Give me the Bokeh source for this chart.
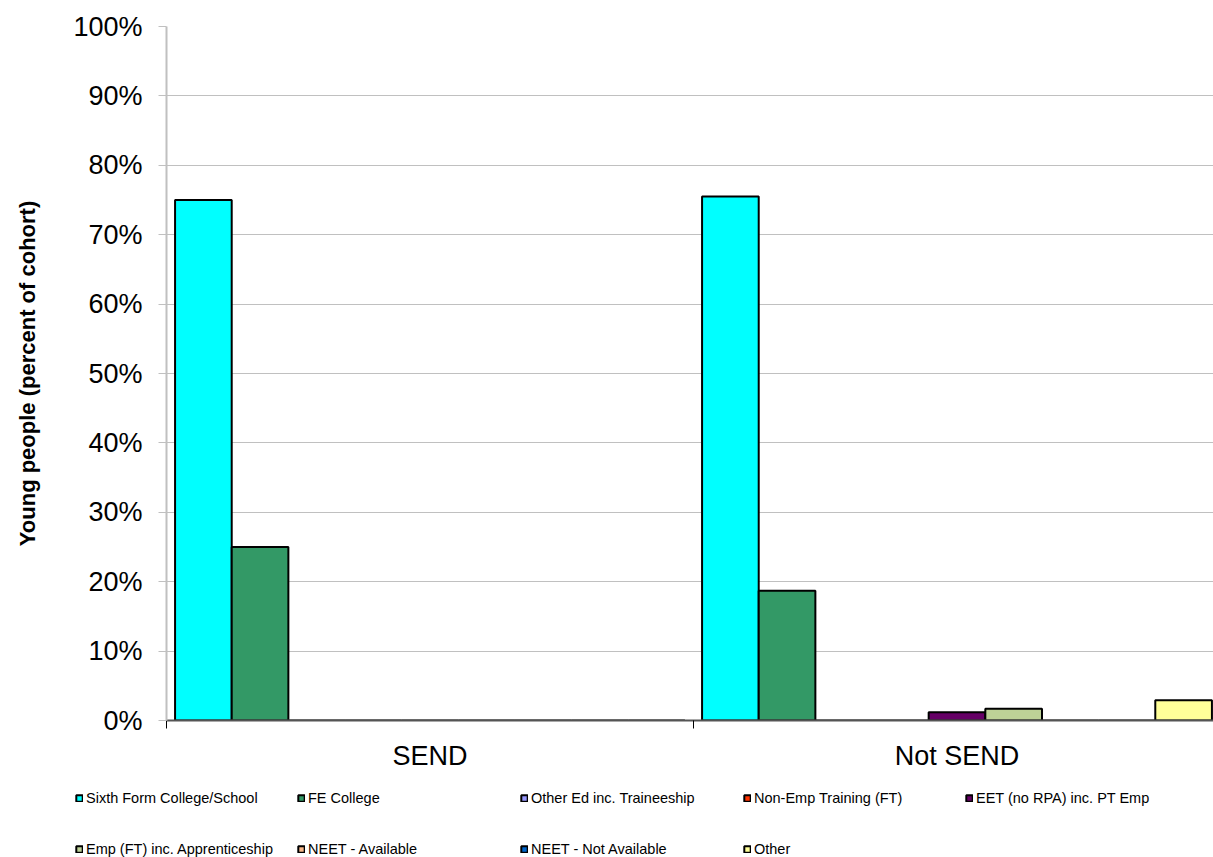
from bokeh.plotting import figure
from bokeh.layouts import column
from bokeh.models import (FixedTicker, PrintfTickFormatter, Legend, LegendItem,
                          ColumnDataSource, Range1d)
from bokeh.embed import file_html
from bokeh.resources import INLINE

# ---- data ----
categories = ["SEND", "Not SEND"]
series = ["Sixth Form College/School", "FE College", "Other Ed inc. Traineeship",
          "Non-Emp Training (FT)", "EET (no RPA) inc. PT Emp",
          "Emp (FT) inc. Apprenticeship", "NEET - Available",
          "NEET - Not Available", "Other"]
send_values = [75.0, 25.0, 0, 0, 0, 0, 0, 0, 0]
not_send_values = [75.5, 18.7, 0, 0, 1.2, 1.7, 0, 0, 2.9]
colors = ["#00FFFF", "#339966", "#9999FF", "#FF3300", "#660066",
          "#BDD197", "#F8B88A", "#0066CC", "#FFFF99"]
y_ticks = list(range(0, 101, 10))

FONT = "Liberation Sans"
W = 1213
LEFT = 166
CAT_PX = 527


def no_frame_align(fig):
    try:
        fig.frame_align = False
    except Exception:
        pass


p = figure(width=W, height=780, output_backend="svg", toolbar_location=None,
           x_range=Range1d(-0.5, -0.5 + (W - LEFT) / CAT_PX), y_range=Range1d(0, 100),
           min_border_left=LEFT, min_border_right=0, min_border_top=26,
           min_border_bottom=60)
p.outline_line_color = None
no_frame_align(p)

n = len(series)
bar_w = 0.1075
cat_idx = list(range(len(categories)))
for i, name in enumerate(series):
    xs = [c + (i - (n - 1) / 2) * bar_w for c in cat_idx]
    tops = [send_values[i], not_send_values[i]]
    src = ColumnDataSource(dict(x=xs, top=tops))
    p.vbar(x="x", top="top", bottom=0, width=bar_w, source=src,
           fill_color=colors[i], line_color="black", line_width=2)

# y axis
p.yaxis.ticker = FixedTicker(ticks=y_ticks, minor_ticks=[])
p.yaxis.formatter = PrintfTickFormatter(format="%d%%")
p.yaxis.major_label_text_font = FONT
p.yaxis.major_label_text_font_size = "27px"
p.yaxis.major_label_text_color = "black"
p.yaxis.axis_line_color = "#C0C0C0"
p.yaxis.axis_line_width = 2
p.yaxis.major_tick_line_color = "#C0C0C0"
p.yaxis.major_tick_in = 0
p.yaxis.major_tick_out = 8
p.yaxis.major_label_standoff = 16
p.yaxis.axis_label = "Young people (percent of cohort)"
p.yaxis.axis_label_text_font = FONT
p.yaxis.axis_label_text_font_style = "bold"
p.yaxis.axis_label_text_font_size = "22px"
p.yaxis.axis_label_text_color = "black"
p.yaxis.axis_label_standoff = 30

# x axis
p.xaxis.ticker = FixedTicker(ticks=cat_idx,
                             minor_ticks=[c - 0.5 for c in cat_idx] + [cat_idx[-1] + 0.5])
p.xaxis.major_label_overrides = {c: categories[c] for c in cat_idx}
p.xaxis.major_label_text_font = FONT
p.xaxis.major_label_text_font_size = "27px"
p.xaxis.major_label_text_color = "black"
p.xaxis.major_tick_out = 0
p.xaxis.major_tick_in = 0
p.xaxis.minor_tick_out = 8
p.xaxis.minor_tick_in = 0
p.xaxis.minor_tick_line_color = "black"
p.xaxis.axis_line_color = "#555555"
p.xaxis.axis_line_width = 2
p.xaxis.major_label_standoff = 12

p.xgrid.grid_line_color = None
p.ygrid.grid_line_color = "#C0C0C0"
p.ygrid.grid_line_width = 1

# ---- legend strip (separate figure below the chart) ----
LH = 77
lf = figure(width=W, height=LH, output_backend="svg", toolbar_location=None,
            x_range=Range1d(0, 1), y_range=Range1d(0, 1),
            x_axis_location=None, y_axis_location=None,
            min_border=0, min_border_left=0, min_border_right=0,
            min_border_top=0, min_border_bottom=0)
lf.grid.visible = False
lf.outline_line_color = None
no_frame_align(lf)

# legend swatch renderers (no visible bars: a single NaN point)
col_x = [75, 297, 520, 743, 965]
row_y = [LH - 18 - 8, 0]
for i, name in enumerate(series):
    swatch = ColumnDataSource(dict(x=[float("nan")], top=[float("nan")]))
    r = lf.vbar(x="x", top="top", width=0.1, source=swatch,
                fill_color=colors[i], line_color="black", line_width=2)
    lg = Legend(items=[LegendItem(label=name, renderers=[r])],
                location=(col_x[i % 5], row_y[i // 5]),
                glyph_width=8, glyph_height=8, label_standoff=3,
                label_text_font=FONT, label_text_font_size="14.5px",
                label_text_color="black", label_height=8,
                padding=0, margin=0, spacing=0,
                border_line_alpha=0, background_fill_alpha=0)
    lf.add_layout(lg, "center")

layout = column(p, lf, spacing=0)
open("out.html", "w").write(file_html(layout, INLINE))
